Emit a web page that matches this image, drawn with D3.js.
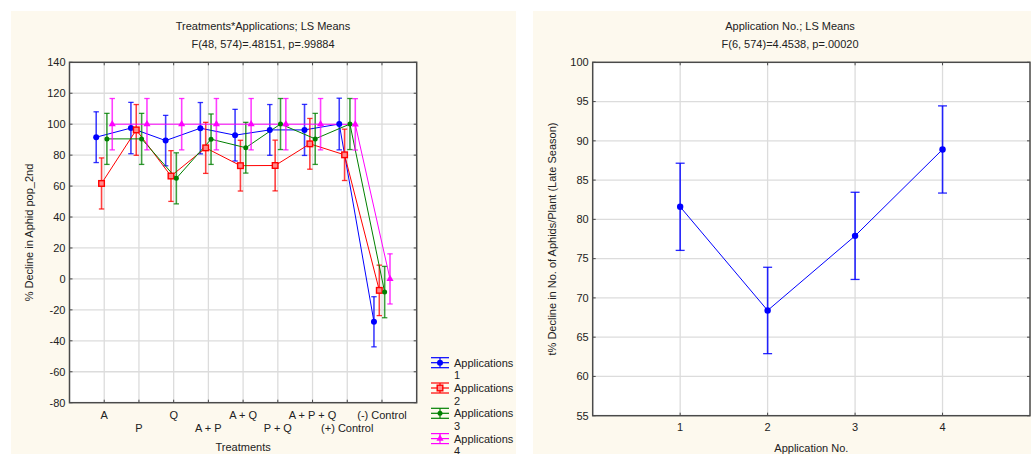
<!DOCTYPE html>
<html><head><meta charset="utf-8">
<script src="https://cdn.jsdelivr.net/npm/d3@7"></script>
<style>
body{margin:0;background:#fff;}
svg{display:block;font-family:"Liberation Sans",Arial,sans-serif;}
</style></head>
<body>
<svg id="c" width="1031" height="454"></svg>
<script>
// ---------- data ----------
const treatments = ["A","P","Q","A + P","A + Q","P + Q","A + P + Q","(+) Control","(-) Control"];
const app1 = [91.6, 97.5, 89.4, 97.4, 92.9, 96.3, 96.3, 100.1, -27.7];
const app2 = [61.7, 96.3, 66.5, 84.7, 73.2, 73.3, 87.3, 80.2, -7.4];
const app3 = [90.5, 90.5, 65.0, 90.3, 84.8, 100.1, 90.5, 100.1, -8.5];
const app4 = [100, 100, 100, 100, 100, 100, 100, 99.9, 0.0];
const ci1 = [16.4, 16.6, 16.3, 16.6, 16.7, 16.4, 16.5, 16.7, 16.2];
const ci2 = [16.5, 16.4, 16.4, 16.5, 16.4, 16.4, 16.4, 16.6, 16.3];
const ci3 = [16.5, 16.5, 16.5, 16.3, 16.4, 16.5, 16.5, 16.5, 16.6];
const ci4 = [16.6, 16.6, 16.6, 16.6, 16.6, 16.6, 16.6, 16.6, 16.2];
const seriesNames = ["Applications\n1","Applications\n2","Applications\n3","Applications\n4"];
const leftYTicks = [-80,-60,-40,-20,0,20,40,60,80,100,120,140];

const appNo = [1, 2, 3, 4];
const appMeans = [81.6, 68.4, 77.9, 88.9];
const appCI = [5.55, 5.5, 5.55, 5.55];
const rightYTicks = [55,60,65,70,75,80,85,90,95,100];

const leftTitle = ["Treatments*Applications; LS Means","F(48, 574)=.48151, p=.99884"];
const rightTitle = ["Application No.; LS Means","F(6, 574)=4.4538, p=.00020"];

// ---------- drawing ----------
const svg = d3.select("#c");
const panelFill = "#fdf9ee";
const gridCol = "#dcdcdc";
const frameCol = "#4a4a4a";
const FS = 11;

svg.append("rect").attr("x",11).attr("y",11).attr("width",505).attr("height",443).attr("fill",panelFill);
svg.append("rect").attr("x",533).attr("y",11).attr("width",498).attr("height",443).attr("fill",panelFill);

function frame(g, x0, x1, y0, y1){
  g.append("rect").attr("x",x0).attr("y",y0).attr("width",x1-x0).attr("height",y1-y0)
    .attr("fill","none").attr("stroke",frameCol).attr("stroke-width",1.5);
}

// ===== LEFT CHART =====
const L = {x0:69.5, x1:416.7, y0:62.3, y1:402.7};
const xL = d3.scaleLinear().domain([0,10]).range([L.x0,L.x1]);
const yL = d3.scaleLinear().domain([-80,140]).range([L.y1,L.y0]);
const gL = svg.append("g");
gL.append("rect").attr("x",L.x0).attr("y",L.y0).attr("width",L.x1-L.x0).attr("height",L.y1-L.y0).attr("fill","#fff");
gL.selectAll(".hg").data(leftYTicks.filter(t=>t>-80&&t<140)).join("line")
  .attr("x1",L.x0).attr("x2",L.x1).attr("y1",d=>yL(d)).attr("y2",d=>yL(d))
  .attr("stroke",gridCol).attr("stroke-width",1.3);
gL.selectAll(".vg").data(treatments).join("line")
  .attr("x1",(d,i)=>xL(i+1)).attr("x2",(d,i)=>xL(i+1)).attr("y1",L.y0).attr("y2",L.y1)
  .attr("stroke",gridCol).attr("stroke-width",1.3);
leftYTicks.forEach(t=>{
  gL.append("line").attr("x1",L.x0).attr("x2",L.x0+3).attr("y1",yL(t)).attr("y2",yL(t)).attr("stroke",frameCol);
  gL.append("line").attr("x1",L.x1-3).attr("x2",L.x1).attr("y1",yL(t)).attr("y2",yL(t)).attr("stroke",frameCol);
});
treatments.forEach((t,i)=>{
  gL.append("line").attr("x1",xL(i+1)).attr("x2",xL(i+1)).attr("y1",L.y0).attr("y2",L.y0+3).attr("stroke",frameCol);
  gL.append("line").attr("x1",xL(i+1)).attr("x2",xL(i+1)).attr("y1",L.y1-3).attr("y2",L.y1).attr("stroke",frameCol);
});
gL.selectAll(".yl").data(leftYTicks).join("text")
  .attr("x",L.x0-4).attr("y",d=>yL(d)).attr("dy","0.35em").attr("text-anchor","end")
  .attr("font-size",FS).attr("fill","#222").text(d=>d);
gL.selectAll(".xl").data(treatments).join("text")
  .attr("x",(d,i)=>xL(i+1)).attr("y",(d,i)=> i%2===0 ? 419 : 431.5)
  .attr("text-anchor","middle").attr("font-size",FS).attr("fill","#222").text(d=>d);
gL.append("text").attr("x",(L.x0+L.x1)/2).attr("y",450.5).attr("text-anchor","middle")
  .attr("font-size",FS).attr("fill","#222").text("Treatments");
gL.append("text").attr("transform",`translate(33,${(L.y0+L.y1)/2}) rotate(-90)`)
  .attr("text-anchor","middle").attr("font-size",FS).attr("fill","#222").text("% Decline in Aphid pop_2nd");
leftTitle.forEach((t,i)=>{
  gL.append("text").attr("x",263).attr("y",30+i*17.5).attr("text-anchor","middle")
    .attr("font-size",FS).attr("fill","#222").text(t);
});

const colors = ["#0000ff","#ff0000","#008000","#ff00ff"];
const vals = [app1,app2,app3,app4];
const cis = [ci1,ci2,ci3,ci4];
const step = xL(1)-xL(0);
const offs = [-1.5,-0.5,0.5,1.5].map(k=>k*step*0.154);

function marker(g, j, cx, cy){
  const c = colors[j];
  if(j===0){
    g.append("circle").attr("cx",cx).attr("cy",cy).attr("r",3).attr("fill",c);
  } else if(j===1){
    g.append("rect").attr("x",cx-2.8).attr("y",cy-2.8).attr("width",5.6).attr("height",5.6)
      .attr("fill","#ff8a8a").attr("stroke",c).attr("stroke-width",1.4);
  } else if(j===2){
    g.append("circle").attr("cx",cx).attr("cy",cy).attr("r",2.5).attr("fill",c);
  } else {
    g.append("path").attr("d",d3.symbol(d3.symbolTriangle,22)()).attr("transform",`translate(${cx},${cy})`).attr("fill",c);
  }
}

const plotG = gL.append("g");
vals.forEach((v,j)=>{
  const c = colors[j];
  const pts = v.map((d,i)=>[xL(i+1)+offs[j], yL(d)]);
  v.forEach((d,i)=>{
    const x = xL(i+1)+offs[j];
    const top = yL(d+cis[j][i]), bot = yL(d-cis[j][i]);
    plotG.append("line").attr("x1",x).attr("x2",x).attr("y1",top).attr("y2",bot)
      .attr("stroke",c).attr("stroke-width",1.6).attr("stroke-opacity",0.75);
    [top,bot].forEach(yy=>plotG.append("line").attr("x1",x-2.7).attr("x2",x+2.7).attr("y1",yy).attr("y2",yy)
      .attr("stroke",c).attr("stroke-width",1.3).attr("stroke-opacity",0.8));
  });
  plotG.append("path").attr("d",d3.line()(pts)).attr("fill","none").attr("stroke",c).attr("stroke-width",1);
});
vals.forEach((v,j)=>{
  v.forEach((d,i)=>marker(plotG,j,xL(i+1)+offs[j],yL(d)));
});
frame(gL,L.x0,L.x1,L.y0,L.y1);

// legend
const lg = svg.append("g");
seriesNames.forEach((n,j)=>{
  const cy = 362.7 + j*25.3;
  const c = colors[j];
  const x0 = 431, x1 = 449, cx = 440;
  [-5,0,5].forEach(dy=>lg.append("line").attr("x1",x0).attr("x2",x1).attr("y1",cy+dy).attr("y2",cy+dy)
    .attr("stroke",c).attr("stroke-width",1.2));
  lg.append("line").attr("x1",cx).attr("x2",cx).attr("y1",cy-5).attr("y2",cy+5).attr("stroke",c).attr("stroke-width",1.2);
  marker(lg,j,cx,cy);
  const parts = n.split("\n");
  parts.forEach((p,k)=>lg.append("text").attr("x",454).attr("y",cy+4+k*12.5)
    .attr("font-size",FS).attr("fill","#222").text(p));
});

// ===== RIGHT CHART =====
const R = {x0:592.7, x1:1030, y0:62.3, y1:415.7};
const xR = d3.scaleLinear().domain([0,5]).range([R.x0,R.x1]);
const yR = d3.scaleLinear().domain([55,100]).range([R.y1,R.y0]);
const gR = svg.append("g");
gR.append("rect").attr("x",R.x0).attr("y",R.y0).attr("width",R.x1-R.x0).attr("height",R.y1-R.y0).attr("fill","#fff");
gR.selectAll(".hg").data(rightYTicks.filter(t=>t>55&&t<100)).join("line")
  .attr("x1",R.x0).attr("x2",R.x1).attr("y1",d=>yR(d)).attr("y2",d=>yR(d))
  .attr("stroke",gridCol).attr("stroke-width",1.3);
gR.selectAll(".vg").data(appNo).join("line")
  .attr("x1",d=>xR(d)).attr("x2",d=>xR(d)).attr("y1",R.y0).attr("y2",R.y1)
  .attr("stroke",gridCol).attr("stroke-width",1.3);
rightYTicks.forEach(t=>{
  gR.append("line").attr("x1",R.x0).attr("x2",R.x0+3).attr("y1",yR(t)).attr("y2",yR(t)).attr("stroke",frameCol);
  gR.append("line").attr("x1",R.x1-3).attr("x2",R.x1).attr("y1",yR(t)).attr("y2",yR(t)).attr("stroke",frameCol);
});
appNo.forEach(a=>{
  gR.append("line").attr("x1",xR(a)).attr("x2",xR(a)).attr("y1",R.y0).attr("y2",R.y0+3).attr("stroke",frameCol);
  gR.append("line").attr("x1",xR(a)).attr("x2",xR(a)).attr("y1",R.y1-3).attr("y2",R.y1).attr("stroke",frameCol);
});
gR.selectAll(".yl").data(rightYTicks).join("text")
  .attr("x",R.x0-4).attr("y",d=>yR(d)).attr("dy","0.35em").attr("text-anchor","end")
  .attr("font-size",FS).attr("fill","#222").text(d=>d);
gR.selectAll(".xl").data(appNo).join("text")
  .attr("x",d=>xR(d)).attr("y",431).attr("text-anchor","middle")
  .attr("font-size",FS).attr("fill","#222").text(d=>d);
gR.append("text").attr("x",(R.x0+R.x1)/2).attr("y",451.5).attr("text-anchor","middle")
  .attr("font-size",FS).attr("fill","#222").text("Application No.");
gR.append("text").attr("transform",`translate(555.5,239) rotate(-90)`)
  .attr("text-anchor","middle").attr("font-size",FS).attr("fill","#222")
  .text("t% Decline in No. of Aphids/Plant (Late Season)");
rightTitle.forEach((t,i)=>{
  gR.append("text").attr("x",790).attr("y",30+i*17.5).attr("text-anchor","middle")
    .attr("font-size",FS).attr("fill","#222").text(t);
});
appMeans.forEach((m,i)=>{
  const x = xR(appNo[i]);
  const top = yR(m+appCI[i]), bot = yR(m-appCI[i]);
  gR.append("line").attr("x1",x).attr("x2",x).attr("y1",top).attr("y2",bot)
    .attr("stroke","#0000ff").attr("stroke-width",1.6).attr("stroke-opacity",0.85);
  [top,bot].forEach(yy=>gR.append("line").attr("x1",x-4.5).attr("x2",x+4.5).attr("y1",yy).attr("y2",yy)
    .attr("stroke","#0000ff").attr("stroke-width",1.3).attr("stroke-opacity",0.85));
});
gR.append("path").attr("d",d3.line()(appMeans.map((m,i)=>[xR(appNo[i]),yR(m)])))
  .attr("fill","none").attr("stroke","#0000ff").attr("stroke-width",1);
appMeans.forEach((m,i)=>gR.append("circle").attr("cx",xR(appNo[i])).attr("cy",yR(m)).attr("r",3.2).attr("fill","#0000ff"));
frame(gR,R.x0,R.x1,R.y0,R.y1);
</script>
</body></html>
